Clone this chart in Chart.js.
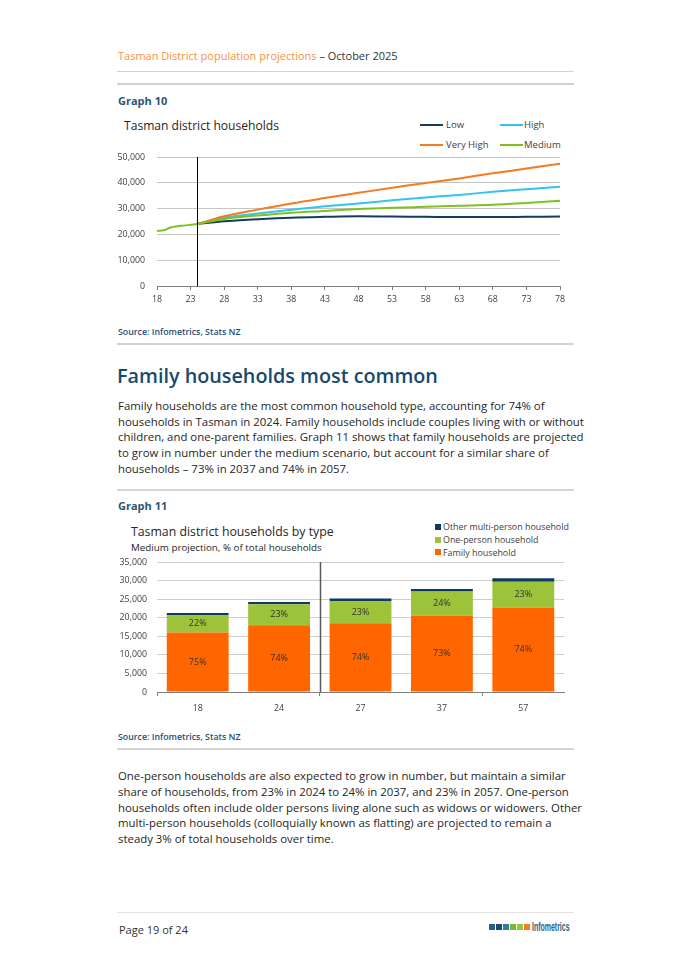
<!DOCTYPE html>
<html>
<head>
<meta charset="utf-8">
<script src="https://cdn.jsdelivr.net/npm/chart.js@4"></script>
<style>
    html, body { margin: 0; padding: 0; background: #fff; }
    body { width: 690px; height: 975px; position: relative; overflow: hidden;
           font-family: 'Open Sans', sans-serif; color: #333; }
    .t { position: absolute; white-space: nowrap; line-height: 16px; }
    .rule { position: absolute; left: 117px; width: 457px; background: #d4d4d4; }
    .graph-no { font-size: 11px; font-weight: 700; color: #2b5672; left: 118px; }
    .source { font-size: 8.8px; font-weight: 600; color: #1f4e79; left: 118px; }
    .para { left: 118px; font-size: 11.4px; color: #262626; }
    .lg-line { position: absolute; height: 2px; width: 23px; }
    .lg-sq { position: absolute; width: 6px; height: 6px; }
    .lg-text { font-size: 9.5px; color: #404040; }
    .chart-box { position: absolute; left: 110px; width: 470px; }
    .logo-sq { position: absolute; top: 924px; width: 6px; height: 6px; }
</style>
</head>
<body>

<!-- page header -->
<div class="t" style="left:118px; top:48px; font-size:11px;">
    <span style="color:#f7923f;">Tasman District population projections</span> – October 2025
</div>
<div class="rule" style="top:71px; height:1px;"></div>
<div class="rule" style="top:83px; height:2px; background:#cfcfcf;"></div>

<!-- Graph 10 -->
<div class="t graph-no" style="top:93px;">Graph 10</div>
<div class="t" style="left:124px; top:118px; font-size:12.1px; color:#262626;">Tasman district households</div>

<div class="lg-line" style="left:420px; top:124px; background:#123d60;"></div>
<div class="t lg-text" style="left:446px; top:117px;">Low</div>
<div class="lg-line" style="left:500px; top:124px; background:#33c3f0;"></div>
<div class="t lg-text" style="left:524px; top:117px;">High</div>
<div class="lg-line" style="left:420px; top:144px; background:#f47b20;"></div>
<div class="t lg-text" style="left:446px; top:137px;">Very High</div>
<div class="lg-line" style="left:500px; top:144px; background:#7dc21e;"></div>
<div class="t lg-text" style="left:524px; top:137px;">Medium</div>

<div class="chart-box" style="top:145px; height:165px;">
    <canvas id="householdsChart" width="470" height="165"></canvas>
</div>

<div class="t source" style="top:324px;">Source: Infometrics, Stats NZ</div>
<div class="rule" style="top:343px; height:2px;"></div>

<!-- section text -->
<div class="t" style="left:117px; top:363px; font-size:19.8px; line-height:26px; font-weight:600; color:#17496d;">Family households most common</div>
<div class="t para" style="top:398px;">Family households are the most common household type, accounting for 74% of</div>
<div class="t para" style="top:413.6px;">households in Tasman in 2024. Family households include couples living with or without</div>
<div class="t para" style="top:429.3px;">children, and one-parent families. Graph 11 shows that family households are projected</div>
<div class="t para" style="top:445px;">to grow in number under the medium scenario, but account for a similar share of</div>
<div class="t para" style="top:460.6px;">households – 73% in 2037 and 74% in 2057.</div>
<div class="rule" style="top:489px; height:2px;"></div>

<!-- Graph 11 -->
<div class="t graph-no" style="top:497.5px;">Graph 11</div>
<div class="t" style="left:131px; top:524px; font-size:12.3px; color:#262626;">Tasman district households by type</div>
<div class="t" style="left:131px; top:539.5px; font-size:9.8px; color:#262626;">Medium projection, % of total households</div>

<div class="lg-sq" style="left:435px; top:524px; background:#0e3b5f;"></div>
<div class="t lg-text" style="left:443px; top:519px; font-size:8.9px;">Other multi-person household</div>
<div class="lg-sq" style="left:435px; top:537px; background:#9dc33a;"></div>
<div class="t lg-text" style="left:443px; top:532px; font-size:8.9px;">One-person household</div>
<div class="lg-sq" style="left:435px; top:549px; background:#ff6600;"></div>
<div class="t lg-text" style="left:443px; top:544.5px; font-size:8.9px;">Family household</div>

<div class="chart-box" style="top:552px; height:166px;">
    <canvas id="typeChart" width="470" height="166"></canvas>
</div>

<div class="t source" style="top:729px;">Source: Infometrics, Stats NZ</div>
<div class="rule" style="top:748px; height:2px;"></div>

<div class="t para" style="top:768px;">One-person households are also expected to grow in number, but maintain a similar</div>
<div class="t para" style="top:783.8px;">share of households, from 23% in 2024 to 24% in 2037, and 23% in 2057. One-person</div>
<div class="t para" style="top:799.5px;">households often include older persons living alone such as widows or widowers. Other</div>
<div class="t para" style="top:815.3px;">multi-person households (colloquially known as flatting) are projected to remain a</div>
<div class="t para" style="top:831px;">steady 3% of total households over time.</div>

<!-- footer -->
<div class="rule" style="top:912px; height:1px; background:#e2e2e2;"></div>
<div class="t" style="left:119px; top:922px; font-size:11px; color:#333;">Page 19 of 24</div>
<div class="logo-sq" style="left:489px; background:#2d5f85;"></div>
<div class="logo-sq" style="left:496px; background:#1e4a6e;"></div>
<div class="logo-sq" style="left:503px; background:#2c7da8;"></div>
<div class="logo-sq" style="left:510px; background:#7ab72e;"></div>
<div class="logo-sq" style="left:517px; background:#8dc63f;"></div>
<div class="logo-sq" style="left:524px; background:#f47b20;"></div>
<div class="t" style="left:532px; top:919px; font-size:12px; font-weight:700; color:#2d5f85;
     font-family:'Liberation Sans',sans-serif; transform:scaleX(0.58); transform-origin:left center;">Infometrics</div>

<script>
// =========================================================
// Graph 10 data – households by scenario (year = 20xx)
// =========================================================
const years = [18, 19, 20, 21, 22, 23, 24, 28, 33, 38, 43, 48, 53, 58, 63, 68, 73, 78];
const xTicks = [18, 23, 28, 33, 38, 43, 48, 53, 58, 63, 68, 73, 78];
const projectionStart = 24;

const lowSeries      = [null, null, null, null, null, null, 24000, 25100, 25900, 26500, 26800, 27000, 26900, 26800, 26700, 26700, 26800, 26900];
const highSeries     = [null, null, null, null, null, null, 24000, 26500, 28100, 29600, 30900, 32000, 33200, 34300, 35300, 36500, 37500, 38500];
const veryHighSeries = [null, null, null, null, null, null, 24000, 27000, 29600, 32000, 34100, 36100, 38100, 39900, 41700, 43700, 45500, 47400];
const mediumSeries   = [21300, 21600, 22700, 23200, 23400, 23700, 24000, 26000, 27300, 28400, 29100, 29800, 30300, 30700, 31100, 31500, 32200, 33000];

// =========================================================
// Graph 11 data – households by type, medium projection
// =========================================================
const typeYears   = ['18', '24', '27', '37', '57'];
const familyHh    = [16000, 18000, 18500, 20500, 22700];
const onePersonHh = [4700, 5600, 6000, 6550, 7000];
const otherHh     = [600, 600, 650, 650, 900];
const familyPct    = ['75%', '74%', '74%', '73%', '74%'];
const onePersonPct = ['22%', '23%', '23%', '24%', '23%'];

Chart.defaults.font.family = "'Open Sans', sans-serif";
Chart.defaults.color = '#404040';

const fmt = v => v.toLocaleString('en-US');

function toPoints(series) {
    return years.map((x, i) => ({ x: x, y: series[i] }));
}

// fixed-width y axis, without the extra label padding above/below the plot
function fixYAxis(scale) {
    scale.width = 47;
    scale.paddingTop = 0;
    scale.paddingBottom = 0;
}

// vertical marker line (start of projections / break between bars)
const markerLine = {
    id: 'markerLine',
    afterDatasetsDraw(chart, args, opts) {
        if (opts.x === undefined) return;
        const { ctx, chartArea } = chart;
        const x = Math.round(opts.x(chart)) + 0.5;
        ctx.save();
        ctx.strokeStyle = opts.color || '#000';
        ctx.lineWidth = opts.width || 1;
        ctx.beginPath();
        ctx.moveTo(x, chartArea.top);
        ctx.lineTo(x, chartArea.bottom);
        ctx.stroke();
        ctx.restore();
    }
};

// percentage labels centred in the bar segments
const segmentLabels = {
    id: 'segmentLabels',
    afterDatasetsDraw(chart) {
        const { ctx } = chart;
        ctx.save();
        ctx.font = "9px 'Open Sans', sans-serif";
        ctx.fillStyle = '#333';
        ctx.textAlign = 'center';
        ctx.textBaseline = 'middle';
        chart.data.datasets.forEach((ds, di) => {
            if (!ds.pctLabels) return;
            chart.getDatasetMeta(di).data.forEach((bar, i) => {
                ctx.fillText(ds.pctLabels[i], bar.x, (bar.y + bar.base) / 2);
            });
        });
        ctx.restore();
    }
};

// =========================================================
// Graph 10
// =========================================================
new Chart(document.getElementById('householdsChart'), {
    type: 'line',
    data: {
        datasets: [
            { label: 'Low', data: toPoints(lowSeries), borderColor: '#123d60', order: 3 },
            { label: 'High', data: toPoints(highSeries), borderColor: '#33c3f0', order: 2 },
            { label: 'Very High', data: toPoints(veryHighSeries), borderColor: '#f47b20', order: 1 },
            { label: 'Medium', data: toPoints(mediumSeries), borderColor: '#7dc21e', order: 0 }
        ]
    },
    options: {
        responsive: false,
        animation: false,
        layout: { padding: { top: 12, right: 20 } },
        elements: {
            point: { radius: 0 },
            line: { borderWidth: 2, cubicInterpolationMode: 'monotone' }
        },
        plugins: {
            legend: { display: false },
            tooltip: { enabled: false },
            markerLine: {
                x: chart => chart.scales.x.getPixelForValue(projectionStart),
                color: '#000',
                width: 1
            }
        },
        scales: {
            x: {
                type: 'linear',
                min: 18,
                max: 78,
                afterBuildTicks: scale => { scale.ticks = xTicks.map(v => ({ value: v })); },
                afterFit: scale => { scale.height = 24; },
                ticks: { font: { size: 8.8 }, padding: 4, maxRotation: 0 },
                grid: { drawOnChartArea: false, tickLength: 4, color: '#7f7f7f' },
                border: { color: '#7f7f7f' }
            },
            y: {
                min: 0,
                max: 50000,
                afterFit: fixYAxis,
                ticks: { stepSize: 10000, font: { size: 8.8 }, padding: 12, callback: v => fmt(v) },
                grid: { color: '#c4c4c4', drawTicks: false },
                border: { display: false }
            }
        }
    },
    plugins: [markerLine]
});

// =========================================================
// Graph 11
// =========================================================
new Chart(document.getElementById('typeChart'), {
    type: 'bar',
    data: {
        labels: typeYears,
        datasets: [
            { label: 'Family household', data: familyHh, backgroundColor: '#ff6600', pctLabels: familyPct },
            { label: 'One-person household', data: onePersonHh, backgroundColor: '#9dc33a', pctLabels: onePersonPct },
            { label: 'Other multi-person household', data: otherHh, backgroundColor: '#0e3b5f' }
        ]
    },
    options: {
        responsive: false,
        animation: false,
        layout: { padding: { top: 10, right: 16 } },
        datasets: { bar: { categoryPercentage: 0.76, barPercentage: 1 } },
        plugins: {
            legend: { display: false },
            tooltip: { enabled: false },
            markerLine: {
                x: chart => (chart.scales.x.getPixelForValue(1) + chart.scales.x.getPixelForValue(2)) / 2,
                color: '#595959',
                width: 1.5
            }
        },
        scales: {
            x: {
                stacked: true,
                afterFit: scale => { scale.height = 26; },
                ticks: { font: { size: 8.8 }, padding: 7 },
                grid: {
                    drawOnChartArea: false,
                    tickLength: 4,
                    color: ctx => (ctx.index % 2 === 0 && ctx.index < 5) ? '#7f7f7f' : 'rgba(0,0,0,0)'
                },
                border: { color: '#7f7f7f' }
            },
            y: {
                stacked: true,
                min: 0,
                max: 35000,
                afterFit: fixYAxis,
                ticks: { stepSize: 5000, font: { size: 8.8 }, padding: 10, callback: v => fmt(v) },
                grid: { color: '#cfcfcf', drawTicks: false },
                border: { display: false }
            }
        }
    },
    plugins: [markerLine, segmentLabels]
});
</script>
</body>
</html>
